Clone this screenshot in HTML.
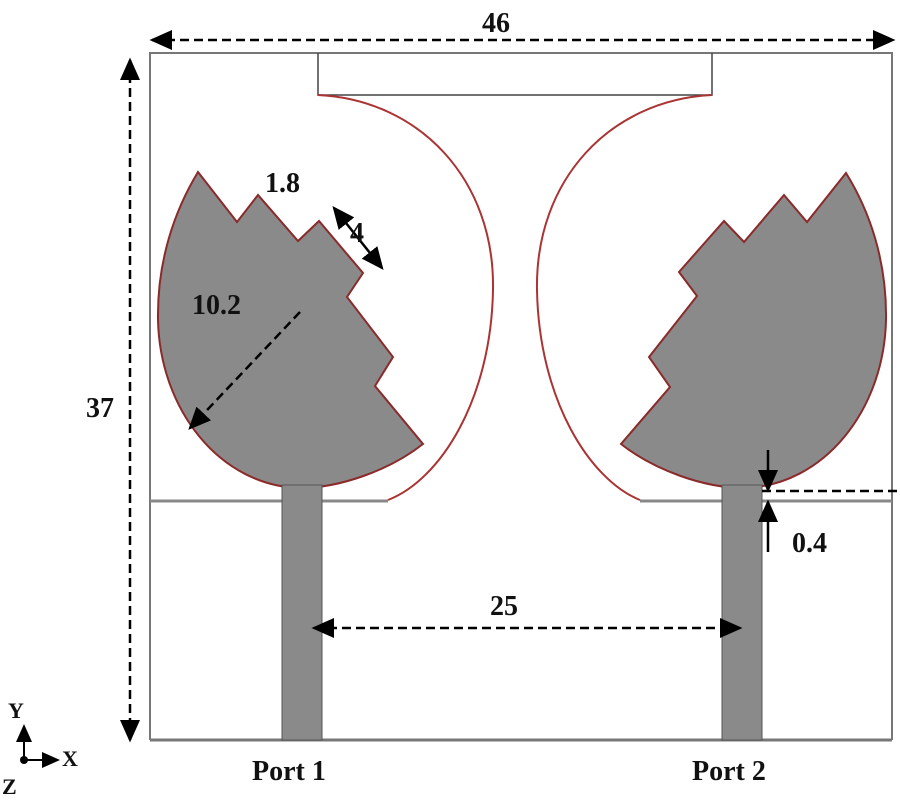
<!DOCTYPE html>
<html><head><style>body{margin:0;background:#fff}svg{display:block}</style></head><body>
<svg width="900" height="800" viewBox="0 0 900 800" xmlns="http://www.w3.org/2000/svg" font-family="Liberation Serif, serif" font-weight="bold">
<defs><marker id="a" markerWidth="9" markerHeight="8" refX="8" refY="4" orient="auto-start-reverse" markerUnits="strokeWidth"><path d="M0,0 L9,4 L0,8 z" fill="#000"/></marker></defs>
<rect width="900" height="800" fill="#fff"/>
<path d="M150,740 L150,53 L892,53 L892,740" fill="none" stroke="#777" stroke-width="2"/>
<line x1="150" y1="740" x2="892" y2="740" stroke="#777" stroke-width="3"/>
<line x1="150" y1="501" x2="388" y2="501" stroke="#888" stroke-width="3"/>
<line x1="640" y1="501" x2="892" y2="501" stroke="#888" stroke-width="3"/>
<path d="M318,53 L318,95 L712,95 L712,53" fill="none" stroke="#444" stroke-width="1.5"/>
<path d="M318,95 C420,100 495,180 493,290 C491,400 440,480 388,500" fill="none" stroke="#a33" stroke-width="2"/>
<path d="M712,95 C610,100 535,180 537,290 C539,400 590,480 640,500" fill="none" stroke="#a33" stroke-width="2"/>
<path d="M198,172 L237,222 L258,195 L298,241 L319,221 L363,273 L347,297 L393,357 L375,386 L423,444 C390,470 340,488 300,488 C220,486 160,410 158,320 C157,260 175,210 198,172 Z" fill="#8a8a8a" stroke="#8a2a2a" stroke-width="2"/>
<path d="M846,173 L807,222 L784,195 L744,242 L724,221 L679,272 L697,296 L649,357 L670,387 L621,444 C654,470 704,488 744,488 C824,486 884,410 886,320 C887,260 869,210 846,173 Z" fill="#8a8a8a" stroke="#8a2a2a" stroke-width="2"/>
<rect x="282" y="485" width="40" height="255" fill="#8a8a8a" stroke="#555" stroke-width="1"/>
<rect x="722" y="485" width="40" height="255" fill="#8a8a8a" stroke="#555" stroke-width="1"/>
<g stroke="#000" stroke-width="2.5" stroke-dasharray="9,5" fill="none">
<line x1="152" y1="40" x2="893" y2="40" marker-end="url(#a)" marker-start="url(#a)"/>
<line x1="130" y1="60" x2="130" y2="740" marker-end="url(#a)" marker-start="url(#a)"/>
<line x1="314" y1="628" x2="740" y2="628" marker-end="url(#a)" marker-start="url(#a)"/>
<line x1="300" y1="312" x2="190" y2="428" marker-end="url(#a)"/>
<line x1="762" y1="491" x2="900" y2="491"/>
</g>
<g stroke="#000" stroke-width="2.5" fill="none">
<line x1="334" y1="208" x2="382" y2="268" marker-end="url(#a)" marker-start="url(#a)"/>
<line x1="768" y1="450" x2="768" y2="490" marker-end="url(#a)"/>
<line x1="768" y1="552" x2="768" y2="502" marker-end="url(#a)"/>
</g>
<g font-size="28" fill="#111">
<text x="482" y="32">46</text>
<text x="86" y="417">37</text>
<text x="490" y="615">25</text>
<text x="265" y="192">1.8</text>
<text x="192" y="314">10.2</text>
<text x="350" y="242">4</text>
<text x="792" y="552">0.4</text>
<text x="252" y="780">Port 1</text>
<text x="692" y="780">Port 2</text>
<text x="8" y="718" font-size="22">Y</text>
<text x="62" y="766" font-size="22">X</text>
<text x="2" y="794" font-size="22">Z</text>
</g>
<g stroke="#000" stroke-width="2" fill="none">
<line x1="24" y1="760" x2="24" y2="726" marker-end="url(#a)"/>
<line x1="24" y1="760" x2="58" y2="760" marker-end="url(#a)"/>
</g>
<circle cx="24" cy="760" r="4" fill="#000"/>
</svg>
</body></html>
